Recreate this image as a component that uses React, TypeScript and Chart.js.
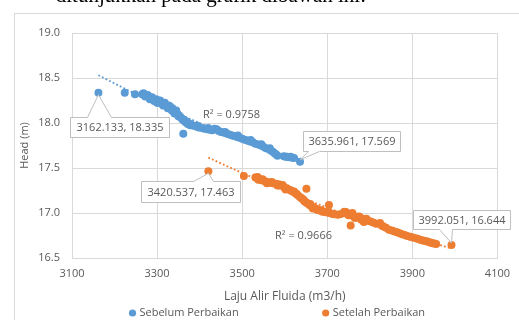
import React, { useEffect, useRef } from 'react';
import { Chart, registerables } from 'chart.js';

Chart.register(...registerables);

// ---------- data ----------
const SERIES_NAMES = ['Sebelum Perbaikan', 'Setelah Perbaikan'];
const X_TITLE = 'Laju Alir Fluida (m3/h)';
const Y_TITLE = 'Head (m)';
const CAPTION = 'ditunjukkan pada grafik dibawah ini:';
const R2_LABELS = ['R\u00B2 = 0.9758', 'R\u00B2 = 0.9666'];

const X_TICKS = [3100, 3300, 3500, 3700, 3900, 4100];
const Y_TICKS = [16.5, 17.0, 17.5, 18.0, 18.5, 19.0];

const sebelumX = [
  3162.133, 3224, 3248, 3265, 3268, 3270, 3272, 3275, 3278, 3280,
  3283, 3285, 3288, 3290, 3293, 3296, 3298, 3300, 3300, 3303,
  3305, 3307, 3309, 3312, 3314, 3316, 3318, 3319, 3323, 3325,
  3327, 3328, 3330, 3333, 3335, 3336, 3338, 3341, 3343, 3345,
  3348, 3350, 3351, 3353, 3355, 3358, 3360, 3361.6, 3363, 3366,
  3368, 3372, 3374, 3378, 3381, 3386, 3392, 3395, 3398, 3405,
  3411, 3418, 3420, 3424, 3430, 3435, 3440, 3445, 3450, 3456,
  3460, 3462, 3468, 3475, 3481, 3488, 3490, 3494, 3500, 3506,
  3512, 3518, 3520, 3525, 3531, 3538, 3544, 3545, 3550, 3556,
  3562, 3565, 3567, 3572, 3576, 3580, 3583, 3598, 3602, 3606,
  3610, 3614, 3618, 3622, 3635.961,
];
const sebelumY = [
  18.335, 18.335, 18.32, 18.32, 18.33, 18.31, 18.295, 18.3, 18.31, 18.29,
  18.265, 18.28, 18.285, 18.265, 18.245, 18.255, 18.265, 18.245, 18.225, 18.225,
  18.24, 18.25, 18.23, 18.22, 18.195, 18.21, 18.225, 18.2, 18.19, 18.165,
  18.195, 18.17, 18.185, 18.155, 18.135, 18.165, 18.14, 18.105, 18.12, 18.14,
  18.1, 18.075, 18.085, 18.075, 18.065, 18.05, 18.035, 17.88, 18.035, 18.01,
  18.02, 17.99, 18.0, 17.975, 17.98, 17.97, 17.96, 17.97, 17.95, 17.945,
  17.935, 17.93, 17.945, 17.925, 17.92, 17.935, 17.93, 17.91, 17.9, 17.895,
  17.9, 17.885, 17.875, 17.865, 17.855, 17.845, 17.86, 17.835, 17.825, 17.815,
  17.805, 17.795, 17.81, 17.785, 17.77, 17.76, 17.75, 17.765, 17.735, 17.72,
  17.71, 17.72, 17.695, 17.68, 17.665, 17.65, 17.635, 17.63, 17.625, 17.625,
  17.62, 17.625, 17.615, 17.61, 17.569,
];

const setelahX = [
  3420.537, 3504, 3531, 3536, 3538, 3540, 3545, 3548, 3550, 3555,
  3558, 3560, 3566, 3570, 3572, 3579, 3583, 3586, 3592, 3595,
  3598, 3602, 3605, 3612, 3615, 3618, 3622, 3625, 3628, 3630,
  3635, 3638, 3640, 3644, 3646, 3650, 3651, 3652, 3658, 3660,
  3663, 3666, 3668, 3673, 3676, 3678, 3684, 3686, 3689, 3695,
  3700, 3704, 3706, 3712, 3718, 3725, 3732, 3740, 3744, 3745,
  3750, 3755, 3757, 3759, 3762, 3765, 3767, 3772, 3775, 3777,
  3780, 3782, 3786, 3790, 3792, 3796, 3802, 3808, 3815, 3824,
  3828, 3832, 3838, 3845, 3852, 3858, 3864, 3870, 3876, 3882,
  3888, 3895, 3901, 3908, 3914, 3920, 3925, 3930, 3935, 3940,
  3944, 3948, 3952, 3956, 3992.051,
];
const setelahY = [
  17.463, 17.41, 17.395, 17.4, 17.37, 17.38, 17.365, 17.375, 17.36, 17.35,
  17.33, 17.345, 17.335, 17.345, 17.33, 17.325, 17.305, 17.32, 17.305, 17.31,
  17.29, 17.26, 17.275, 17.256, 17.25, 17.24, 17.24, 17.22, 17.21, 17.2,
  17.18, 17.17, 17.16, 17.15, 17.13, 17.12, 17.27, 17.11, 17.09, 17.1,
  17.075, 17.05, 17.06, 17.05, 17.035, 17.04, 17.025, 17.03, 17.015, 17.01,
  17.005, 17.09, 17.0, 16.99, 16.985, 16.98, 16.99, 17.015, 17.01, 16.995,
  16.975, 16.86, 16.98, 17.0, 16.96, 16.945, 16.96, 16.95, 16.96, 16.945,
  16.925, 16.94, 16.9, 16.93, 16.935, 16.915, 16.905, 16.895, 16.88, 16.89,
  16.86, 16.85, 16.835, 16.815, 16.805, 16.795, 16.785, 16.775, 16.765, 16.755,
  16.745, 16.735, 16.728, 16.72, 16.71, 16.7, 16.695, 16.69, 16.682, 16.675,
  16.67, 16.665, 16.66, 16.656, 16.644,
];

// ---------- styles ----------
const FONT = '"Open Sans", "Liberation Sans", sans-serif';
const TEXT = '#595959';
const COLORS = ['#5b9bd5', '#ed7d31'];
const GRID = '#d9d9d9';

function toPoints(xs: number[], ys: number[]) {
  return xs.map((x, i) => ({ x, y: ys[i] }));
}

// least-squares polynomial (order 2) fit, like a spreadsheet trendline
function quadFit(xs: number[], ys: number[]) {
  const n = xs.length;
  const mx = xs.reduce((a, b) => a + b, 0) / n;
  const s = [0, 0, 0, 0, 0];
  const t = [0, 0, 0];
  for (let i = 0; i < n; i++) {
    const u = xs[i] - mx;
    let p = 1;
    for (let k = 0; k < 5; k++) {
      s[k] += p;
      if (k < 3) t[k] += p * ys[i];
      p *= u;
    }
  }
  const A = [
    [s[0], s[1], s[2], t[0]],
    [s[1], s[2], s[3], t[1]],
    [s[2], s[3], s[4], t[2]],
  ];
  for (let c = 0; c < 3; c++) {
    let piv = c;
    for (let r = c + 1; r < 3; r++) if (Math.abs(A[r][c]) > Math.abs(A[piv][c])) piv = r;
    [A[c], A[piv]] = [A[piv], A[c]];
    for (let r = 0; r < 3; r++) {
      if (r === c) continue;
      const f = A[r][c] / A[c][c];
      for (let k = c; k < 4; k++) A[r][k] -= f * A[c][k];
    }
  }
  const c0 = A[0][3] / A[0][0];
  const c1 = A[1][3] / A[1][1];
  const c2 = A[2][3] / A[2][2];
  return (x: number) => {
    const u = x - mx;
    return c0 + c1 * u + c2 * u * u;
  };
}

type Callout = { ds: number; which: 'min' | 'max'; dx: number; dy: number; w: number; h: number; side: 'top' | 'bottom'; b0: number; b1: number };
const CALLOUTS: Callout[] = [
  { ds: 0, which: 'min', dx: -28, dy: 24, w: 99, h: 20, side: 'top', b0: 17, b1: 41 },
  { ds: 0, which: 'max', dx: 3, dy: -31, w: 97, h: 20, side: 'bottom', b0: 5, b1: 16 },
  { ds: 1, which: 'min', dx: -67, dy: 9.5, w: 99, h: 21, side: 'top', b0: 52, b1: 72 },
  { ds: 1, which: 'max', dx: -38, dy: -35, w: 97, h: 19, side: 'bottom', b0: 26, b1: 39 },
];

const extrasPlugin = {
  id: 'extras',
  beforeDraw(chart: any) {
    const { ctx } = chart;
    ctx.save();
    ctx.fillStyle = '#ffffff';
    ctx.fillRect(0, 0, chart.width, chart.height);
    // caption text of the document, cut off at the top
    ctx.fillStyle = '#000000';
    ctx.font = '21px "Liberation Serif", "Times New Roman", serif';
    ctx.textAlign = 'right';
    ctx.textBaseline = 'alphabetic';
    ctx.fillText(CAPTION, 366, 2);
    // chart frame
    ctx.strokeStyle = GRID;
    ctx.lineWidth = 1;
    ctx.strokeRect(14.5, 13.5, 700, 500);
    ctx.restore();
  },
  beforeDatasetsDraw(chart: any) {
    const { ctx, chartArea, scales } = chart;
    const sx = scales.x;
    const sy = scales.y;
    const series = [
      [sebelumX, sebelumY],
      [setelahX, setelahY],
    ];
    ctx.save();
    ctx.beginPath();
    ctx.rect(chartArea.left, chartArea.top, chartArea.right - chartArea.left, chartArea.bottom - chartArea.top);
    ctx.clip();
    series.forEach(([xs, ys], i) => {
      const f = quadFit(xs, ys);
      const lo = Math.min(...xs);
      const hi = Math.max(...xs);
      ctx.beginPath();
      const N = 80;
      for (let k = 0; k <= N; k++) {
        const x = lo + ((hi - lo) * k) / N;
        const px = sx.getPixelForValue(x);
        const py = sy.getPixelForValue(f(x));
        if (k === 0) ctx.moveTo(px, py);
        else ctx.lineTo(px, py);
      }
      ctx.strokeStyle = COLORS[i];
      ctx.lineWidth = 1.8;
      ctx.setLineDash([1.8, 2.2]);
      ctx.stroke();
    });
    ctx.restore();
  },
  afterDatasetsDraw(chart: any) {
    const { ctx, scales } = chart;
    const sx = scales.x;
    const sy = scales.y;
    const series = [
      [sebelumX, sebelumY],
      [setelahX, setelahY],
    ];
    ctx.save();
    ctx.font = `11px ${FONT}`;
    ctx.textAlign = 'center';
    ctx.textBaseline = 'middle';
    CALLOUTS.forEach((c) => {
      const [xs, ys] = series[c.ds];
      let idx = 0;
      xs.forEach((x, i) => {
        if (c.which === 'min' ? x < xs[idx] : x > xs[idx]) idx = i;
      });
      const vx = xs[idx];
      const vy = ys[idx];
      const px = sx.getPixelForValue(vx);
      const py = sy.getPixelForValue(vy);
      const L = Math.round(px + c.dx) + 0.5;
      const T = Math.round(py + c.dy) + 0.5;
      const R = L + c.w;
      const B = T + c.h;
      ctx.beginPath();
      if (c.side === 'top') {
        ctx.moveTo(L, T);
        ctx.lineTo(L + c.b0, T);
        ctx.lineTo(px, py + 2);
        ctx.lineTo(L + c.b1, T);
        ctx.lineTo(R, T);
        ctx.lineTo(R, B);
        ctx.lineTo(L, B);
        ctx.closePath();
      } else {
        ctx.moveTo(L, T);
        ctx.lineTo(R, T);
        ctx.lineTo(R, B);
        ctx.lineTo(L + c.b1, B);
        ctx.lineTo(px, py - 2);
        ctx.lineTo(L + c.b0, B);
        ctx.lineTo(L, B);
        ctx.closePath();
      }
      ctx.fillStyle = '#ffffff';
      ctx.fill();
      ctx.strokeStyle = '#bfbfbf';
      ctx.lineWidth = 1;
      ctx.stroke();
      ctx.fillStyle = TEXT;
      ctx.fillText(`${vx.toFixed(3)}, ${vy.toFixed(3)}`, (L + R) / 2, (T + B) / 2 + 0.5);
    });
    // R² labels
    ctx.textAlign = 'left';
    ctx.fillStyle = TEXT;
    ctx.fillText(R2_LABELS[0], 203, 115);
    ctx.fillText(R2_LABELS[1], 275, 236);
    ctx.restore();
  },
  afterDraw(chart: any) {
    const { ctx } = chart;
    ctx.save();
    ctx.font = `11px ${FONT}`;
    ctx.textBaseline = 'middle';
    ctx.textAlign = 'left';
    const items = [
      { cx: 132.5, tx: 139.5 },
      { cx: 325.7, tx: 332.7 },
    ];
    items.forEach((it, i) => {
      ctx.beginPath();
      ctx.arc(it.cx, 313, 3.6, 0, Math.PI * 2);
      ctx.fillStyle = COLORS[i];
      ctx.fill();
      ctx.fillStyle = TEXT;
      ctx.fillText(SERIES_NAMES[i], it.tx, 313);
    });
    ctx.restore();
  },
};

export default function App() {
  const ref = useRef<HTMLCanvasElement | null>(null);
  useEffect(() => {
    if (!ref.current) return;
    const chart = new Chart(ref.current, {
      type: 'scatter',
      data: {
        datasets: [
          {
            label: SERIES_NAMES[0],
            data: toPoints(sebelumX, sebelumY),
            backgroundColor: COLORS[0],
            borderColor: COLORS[0],
            borderWidth: 0,
            pointRadius: 4,
            pointHoverRadius: 4,
          },
          {
            label: SERIES_NAMES[1],
            data: toPoints(setelahX, setelahY),
            backgroundColor: COLORS[1],
            borderColor: COLORS[1],
            borderWidth: 0,
            pointRadius: 4,
            pointHoverRadius: 4,
          },
        ],
      },
      options: {
        animation: false,
        responsive: false,
        devicePixelRatio: 1,
        events: [],
        layout: { padding: { left: 0, right: 15, top: 33, bottom: 0 } },
        plugins: {
          legend: { display: false },
          tooltip: { enabled: false },
        },
        scales: {
          x: {
            type: 'linear',
            min: X_TICKS[0],
            max: X_TICKS[X_TICKS.length - 1],
            afterBuildTicks: (s: any) => {
              s.ticks = X_TICKS.map((v) => ({ value: v }));
            },
            afterFit: (s: any) => {
              s.height = 62;
            },
            ticks: {
              color: TEXT,
              font: { family: FONT, size: 11 },
              padding: 9,
              maxRotation: 0,
              callback: (v: any) => String(v),
            },
            grid: { color: GRID, drawTicks: false, lineWidth: 1 },
            border: { color: GRID },
            title: {
              display: true,
              text: X_TITLE,
              color: TEXT,
              font: { family: FONT, size: 12 },
              padding: { top: 0, bottom: 16 },
            },
          },
          y: {
            type: 'linear',
            min: Y_TICKS[0],
            max: Y_TICKS[Y_TICKS.length - 1],
            afterBuildTicks: (s: any) => {
              s.ticks = Y_TICKS.map((v) => ({ value: v }));
            },
            afterFit: (s: any) => {
              s.width = 72;
            },
            ticks: {
              color: TEXT,
              font: { family: FONT, size: 11 },
              padding: 12,
              callback: (v: any) => Number(v).toFixed(1),
            },
            grid: { color: GRID, drawTicks: false, lineWidth: 1 },
            border: { color: GRID },
            title: {
              display: true,
              text: Y_TITLE,
              color: TEXT,
              font: { family: FONT, size: 11 },
              padding: { top: 18, bottom: 0 },
            },
          },
        },
      },
      plugins: [extrasPlugin],
    } as any);
    return () => chart.destroy();
  }, []);
  return (
    <div style={{ position: 'fixed', left: 0, top: 0, width: 519, height: 320, background: '#fff' }}>
      <canvas ref={ref} width={519} height={320} style={{ display: 'block', width: 519, height: 320 }} />
    </div>
  );
}
